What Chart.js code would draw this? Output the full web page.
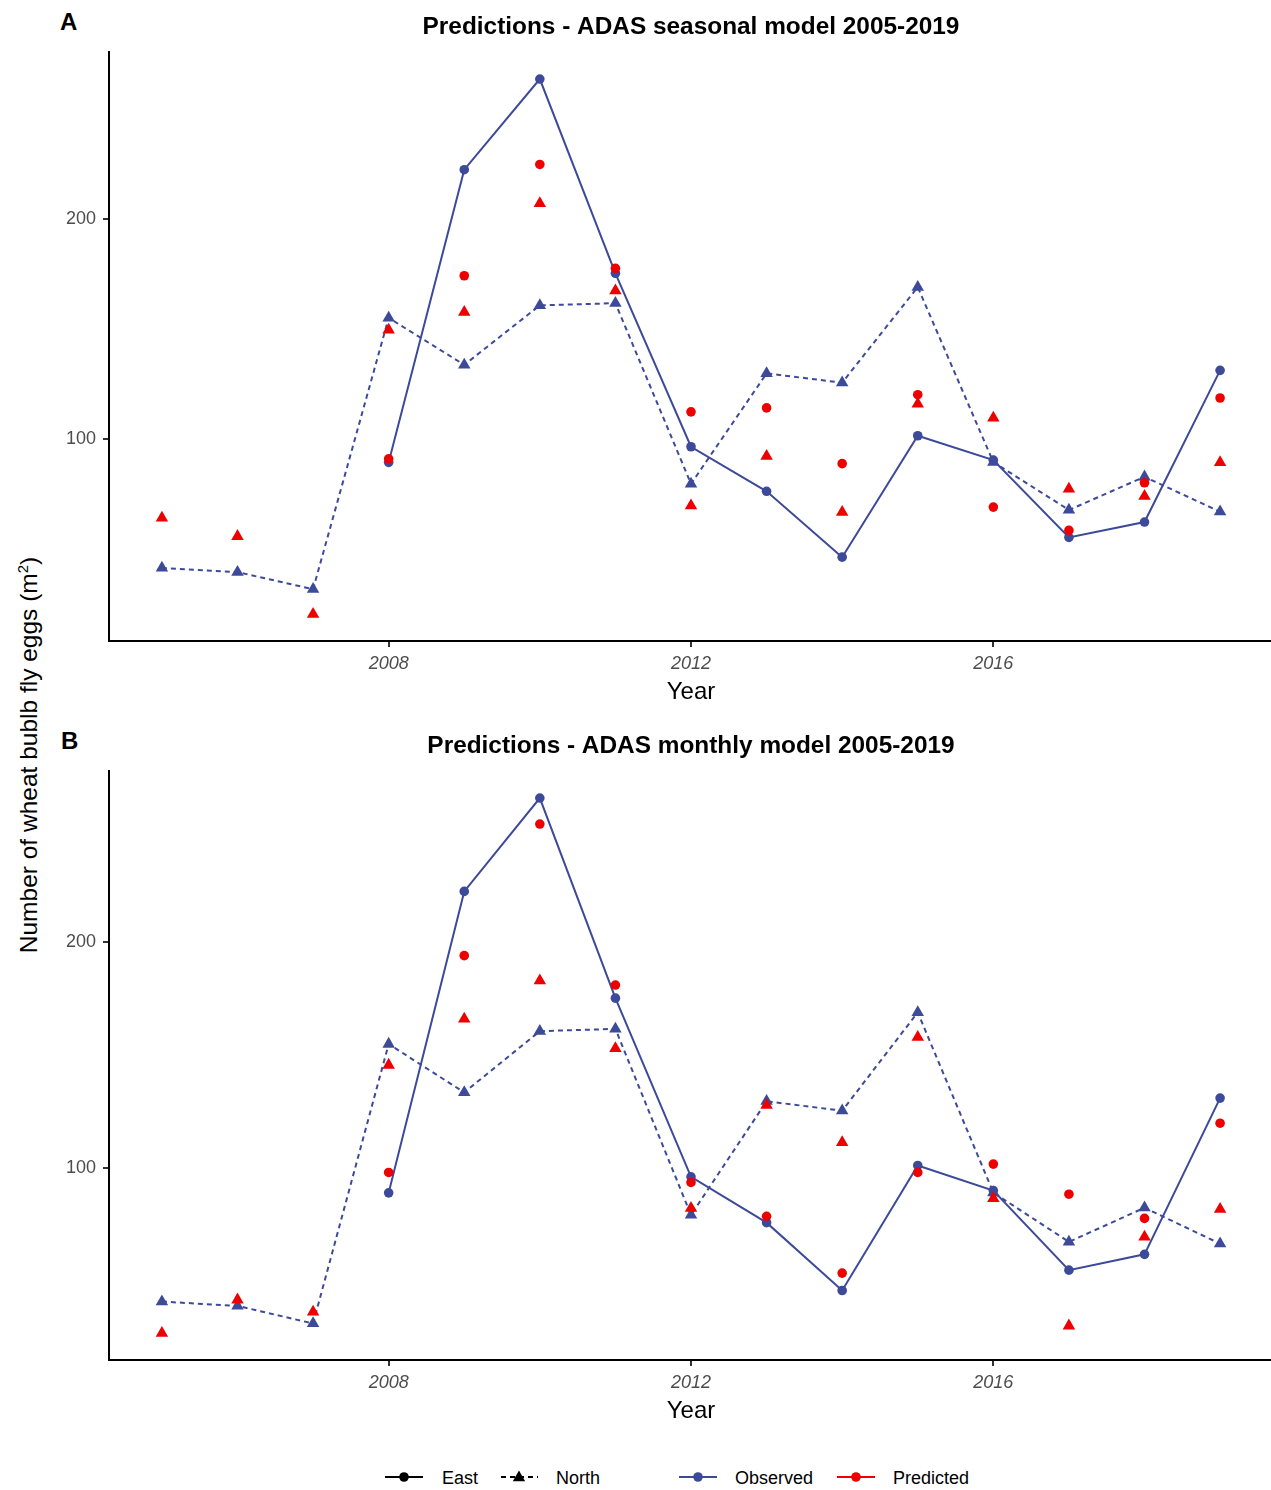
<!DOCTYPE html>
<html>
<head>
<meta charset="utf-8">
<title>Wheat bulb fly eggs - ADAS predictions 2005-2019</title>
<script src="https://cdn.jsdelivr.net/npm/chart.js@4.4.1/dist/chart.umd.min.js"></script>
<style>
  html, body { margin: 0; padding: 0; background: #fff; }
  body {
    position: relative;
    width: 1271px;
    height: 1490px;
    overflow: hidden;
    font-family: "Liberation Sans", Arial, sans-serif;
  }
  canvas { position: absolute; left: 0; }
  #chartA { top: 0; }
  #chartB { top: 719px; }
  .panel-tag {
    position: absolute;
    font-size: 24px;
    font-weight: bold;
    line-height: 24px;
    color: #000;
  }
  #y-title {
    position: absolute;
    left: 29px;
    top: 755px;
    transform: translate(-50%, -50%) rotate(-90deg);
    font-size: 24.5px;
    line-height: 28px;
    white-space: nowrap;
    color: #000;
  }
  #y-title sup { font-size: 15px; vertical-align: 9px; line-height: 0; }
  .legend-key { position: absolute; top: 1469px; }
  .legend-text {
    position: absolute;
    top: 1469px;
    font-size: 18px;
    line-height: 18px;
    color: #000;
    white-space: nowrap;
  }
</style>
</head>
<body>
<div class="panel-tag" style="left:60px; top:10px;">A</div>
<div class="panel-tag" style="left:61px; top:729px;">B</div>
<div id="y-title">Number of wheat bublb fly eggs (m<sup>2</sup>)</div>
<canvas id="chartA" width="1273" height="719"></canvas>
<canvas id="chartB" width="1273" height="719"></canvas>
<div id="legend"></div>

<script>
// survey years and egg counts per m2
const years = [2005, 2006, 2007, 2008, 2009, 2010, 2011, 2012, 2013, 2014, 2015, 2016, 2017, 2018, 2019];

const eastObserved = [null, null, null, 89.2, 222.5, 263.8, 175.3, 96.3, 76.0, 46.0, 101.3, 90.2, 55.0, 62.0, 131.1];
const northObserved = [41.1, 39.2, 31.4, 155.0, 133.6, 160.7, 161.7, 79.4, 129.7, 125.5, 169.0, 89.3, 67.5, 82.6, 66.7];

// seasonal model
const seasonalEast = [null, null, null, 90.8, 174.2, 224.9, 177.6, 112.2, 114.0, 88.6, 120.0, 68.8, 58.2, 79.9, 118.5];
const seasonalNorth = [63.9, 55.5, 20.0, 149.5, 157.6, 207.1, 167.4, 69.5, 92.0, 66.5, 115.8, 109.4, 77.1, 73.8, 89.2];

// monthly model
const monthlyEast = [null, null, null, 98.2, 194.1, 252.3, 181.1, 93.8, 78.8, 53.7, 98.2, 101.9, 88.6, 77.9, 120.0];
const monthlyNorth = [27.1, 41.9, 36.5, 145.7, 166.1, 183.0, 153.1, 82.4, 128.0, 111.5, 158.0, 86.7, 30.4, 69.7, 82.0];

const yearTicks = [2008, 2012, 2016];
const countTicks = [100, 200];

const blue = "#3D4A99";
const red = "#EE0000";

Chart.defaults.font.family = '"Liberation Sans", Arial, sans-serif';

window.onload = function() {
  createPanel("chartA", "Predictions - ADAS seasonal model 2005-2019", seasonalEast, seasonalNorth);
  createPanel("chartB", "Predictions - ADAS monthly model 2005-2019", monthlyEast, monthlyNorth);
  buildLegend();
};

function pairUp(values) {
  return years.map((year, i) => ({ x: year, y: values[i] }));
}

// ggplot style: pad the data range by 5% on each side
function paddedRange(seriesList) {
  const values = seriesList.flat().filter(v => v !== null);
  const min = Math.min(...values);
  const max = Math.max(...values);
  const pad = (max - min) * 0.05;
  return { min: min - pad, max: max + pad };
}

function createPanel(canvasId, title, eastPredicted, northPredicted) {
  const yRange = paddedRange([eastObserved, northObserved, eastPredicted, northPredicted]);
  const xRange = paddedRange([years]);
  const ctx = document.getElementById(canvasId).getContext("2d");

  const axisGrid = { drawOnChartArea: false, drawTicks: true, tickLength: 6, color: "#333333", lineWidth: 2 };
  const axisBorder = { display: true, color: "#000000", width: 2 };

  return new Chart(ctx, {
    type: "line",
    data: {
      datasets: [
        {
          label: "Predicted East",
          data: pairUp(eastPredicted),
          showLine: false,
          pointStyle: "circle",
          pointRadius: 4.8,
          pointBackgroundColor: red,
          pointBorderColor: red,
          pointBorderWidth: 0
        },
        {
          label: "Predicted North",
          data: pairUp(northPredicted),
          showLine: false,
          pointStyle: "triangle",
          pointRadius: 7.2,
          pointBackgroundColor: red,
          pointBorderColor: red,
          pointBorderWidth: 0
        },
        {
          label: "Observed East",
          data: pairUp(eastObserved),
          borderColor: blue,
          borderWidth: 2,
          pointStyle: "circle",
          pointRadius: 4.8,
          pointBackgroundColor: blue,
          pointBorderColor: blue,
          pointBorderWidth: 0
        },
        {
          label: "Observed North",
          data: pairUp(northObserved),
          borderColor: blue,
          borderWidth: 2,
          borderDash: [5, 4],
          pointStyle: "triangle",
          pointRadius: 7.2,
          pointBackgroundColor: blue,
          pointBorderColor: blue,
          pointBorderWidth: 0
        }
      ]
    },
    options: {
      responsive: false,
      animation: false,
      devicePixelRatio: 1,
      events: [],
      layout: { padding: 0, autoPadding: false },
      plugins: {
        legend: { display: false },
        tooltip: { enabled: false },
        title: {
          display: true,
          text: title,
          fullSize: false,
          color: "#000",
          font: { size: 24.4, weight: "bold" },
          padding: { top: 13, bottom: 10 }
        }
      },
      scales: {
        x: {
          type: "linear",
          min: xRange.min,
          max: xRange.max,
          afterBuildTicks: scale => {
            scale.ticks = yearTicks.map(v => ({ value: v }));
          },
          afterFit: scale => {
            scale.height = 78;
          },
          grid: axisGrid,
          border: axisBorder,
          ticks: {
            padding: 6,
            color: "#4D4D4D",
            font: { size: 18, style: "italic" },
            callback: value => String(value)
          },
          title: {
            display: true,
            text: "Year",
            color: "#000",
            font: { size: 24 },
            padding: { top: 0, bottom: 12 }
          }
        },
        y: {
          type: "linear",
          min: yRange.min,
          max: yRange.max,
          afterBuildTicks: scale => {
            scale.ticks = countTicks.map(v => ({ value: v }));
          },
          afterFit: scale => {
            scale.width = 109;
          },
          grid: axisGrid,
          border: axisBorder,
          ticks: {
            padding: 7,
            color: "#4D4D4D",
            font: { size: 18 },
            callback: value => String(value)
          }
        }
      }
    }
  });
}

// legend keys: line type by region, colour by source
function buildLegend() {
  const entries = [
    { text: "East", keyLeft: 385, textLeft: 442, colour: "#000", dashed: false, marker: "circle" },
    { text: "North", keyLeft: 500, textLeft: 556, colour: "#000", dashed: true, marker: "triangle" },
    { text: "Observed", keyLeft: 679, textLeft: 735, colour: blue, dashed: false, marker: "circle" },
    { text: "Predicted", keyLeft: 837, textLeft: 893, colour: red, dashed: false, marker: "circle" }
  ];
  const legend = document.getElementById("legend");
  entries.forEach(entry => {
    const shape = entry.marker === "circle"
      ? `<circle cx="19" cy="8" r="4.8" fill="${entry.colour}"/>`
      : `<polygon points="19,1.5 25.2,12.3 12.8,12.3" fill="${entry.colour}"/>`;
    const dash = entry.dashed ? ' stroke-dasharray="5 4" stroke-dashoffset="-1"' : "";
    const key = document.createElement("div");
    key.className = "legend-key";
    key.style.left = entry.keyLeft + "px";
    key.innerHTML =
      `<svg width="38" height="16" viewBox="0 0 38 16">` +
      `<line x1="0" y1="8" x2="38" y2="8" stroke="${entry.colour}" stroke-width="2"${dash}/>` +
      shape + `</svg>`;
    legend.appendChild(key);

    const label = document.createElement("div");
    label.className = "legend-text";
    label.style.left = entry.textLeft + "px";
    label.textContent = entry.text;
    legend.appendChild(label);
  });
}
</script>
</body>
</html>
